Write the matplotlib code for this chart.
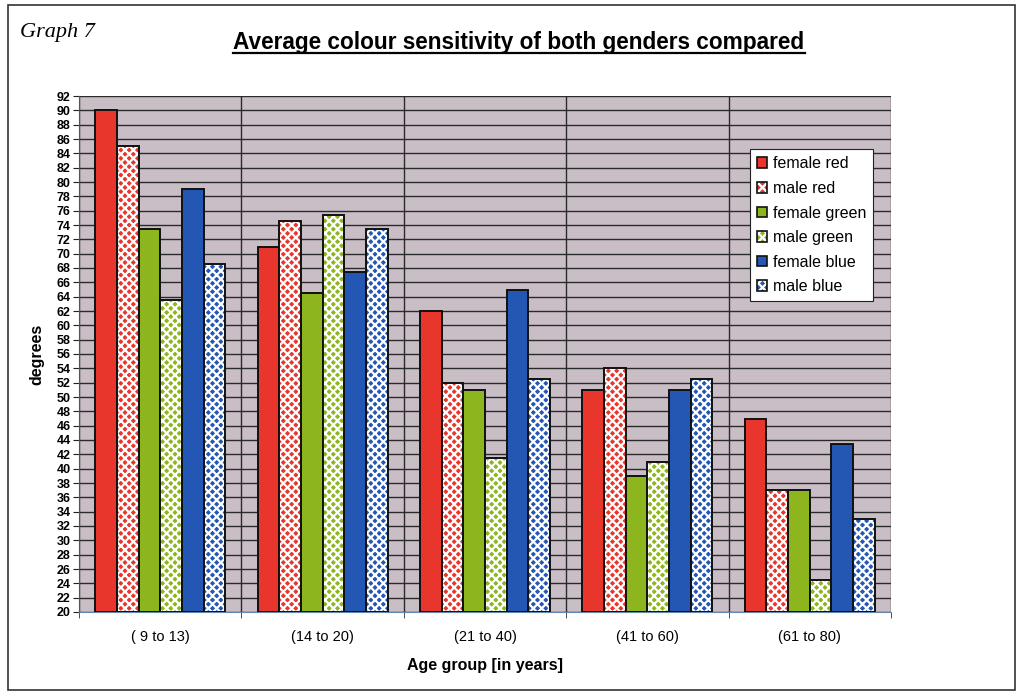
import matplotlib
matplotlib.use("Agg")
import matplotlib.pyplot as plt
import numpy as np
from matplotlib.patches import Rectangle, Patch
from matplotlib.lines import Line2D
from matplotlib.legend_handler import HandlerTuple

categories = ["( 9 to 13)", "(14 to 20)", "(21 to 40)", "(41 to 60)", "(61 to 80)"]
series_names = ["female red", "male red", "female green", "male green", "female blue", "male blue"]
female_red = [90, 71, 62, 51, 47]
male_red = [85, 74.5, 52, 54, 37]
female_green = [73.5, 64.5, 51, 39, 37]
male_green = [63.5, 75.4, 41.5, 41, 24.5]
female_blue = [79, 67.5, 65, 51, 43.5]
male_blue = [68.5, 73.5, 52.5, 52.5, 33]
yticks = list(range(20, 93, 2))

series = [female_red, male_red, female_green, male_green, female_blue, male_blue]
colors = ["#e8362c", "#e8362c", "#8db51e", "#8db51e", "#2456b4", "#2456b4"]
patterned = [False, True, False, True, False, True]

plt.rcParams['font.family'] = ['Liberation Sans', 'DejaVu Sans']
plt.rcParams['hatch.linewidth'] = 1.6

fig = plt.figure(figsize=(10.22, 6.95), dpi=100)
ax = fig.add_axes([79/1022, 1-612/695, (891-79)/1022, (612-96)/695])
ax.set_facecolor("#c9bec6")

x = np.arange(len(categories))
group = 0.8
w = group / len(series)
HATCH = "xxxx"
for i, (vals, c, pat) in enumerate(zip(series, colors, patterned)):
    pos = x - group/2 + w/2 + i*w
    heights = np.array(vals) - 20
    if pat:
        ax.bar(pos, heights, w, bottom=20, color=c, edgecolor="white",
               hatch=HATCH, linewidth=0, zorder=3)
        ax.bar(pos, heights, w, bottom=20, fill=False, edgecolor="#111111",
               linewidth=1.4, zorder=4)
    else:
        ax.bar(pos, heights, w, bottom=20, color=c, edgecolor="#111111",
               linewidth=1.4, zorder=3)

ax.set_xlim(-0.5, len(categories)-0.5)
ax.set_ylim(20, 92)
ax.set_yticks(yticks)
ax.set_yticklabels([str(t) for t in yticks], fontsize=9, fontweight='bold')
ax.set_xticks(x)
ax.set_xticklabels(categories, fontsize=10.5)
ax.tick_params(axis='x', length=0, pad=13)
ax.set_xticks(np.arange(-0.5, len(categories), 1.0), minor=True)
ax.tick_params(axis='x', which='minor', length=4, color='#333333')
ax.tick_params(axis='y', length=4, pad=2, color='#222222')
ax.grid(axis='y', color='#2a2a2a', linewidth=1.0, zorder=1)
ax.grid(axis='x', which='minor', color='#2a2a2a', linewidth=1.0, zorder=1)
ax.set_axisbelow(True)
for s in ['top', 'right']:
    ax.spines[s].set_visible(False)
ax.spines['left'].set_color('#555555')
ax.spines['bottom'].set_color('#6688aa')

ax.set_ylabel("degrees", fontsize=11.5, fontweight='bold', labelpad=9)
ax.set_xlabel("Age group [in years]", fontsize=11.5, fontweight='bold', labelpad=10)

handles = []
for name, c, pat in zip(series_names, colors, patterned):
    if pat:
        h1 = Patch(facecolor=c, edgecolor='white', hatch=HATCH, linewidth=0)
        h2 = Patch(fill=False, edgecolor='#111111', linewidth=1.2)
        handles.append((h1, h2))
    else:
        handles.append(Patch(facecolor=c, edgecolor='#111111', linewidth=1.2))
leg = ax.legend(handles=handles, labels=series_names, loc='upper left',
                bbox_to_anchor=(0.826, 0.897), borderaxespad=0,
                handler_map={tuple: HandlerTuple(ndivide=1)},
                fontsize=11.5, frameon=True, fancybox=False, edgecolor='#222222',
                handlelength=0.65, handleheight=0.65, handletextpad=0.35,
                labelspacing=0.6, borderpad=0.45, framealpha=1)
leg.get_frame().set_linewidth(0.8)

fig.text(20/1022, 1-33/695, "Graph 7", fontsize=16, style='italic',
         family=['Liberation Serif', 'DejaVu Serif'], va='center', ha='left')
title = fig.text(519/1022, 1-43/695, "Average colour sensitivity of both genders compared",
                 fontsize=16.3, fontweight='bold', ha='center', va='center')

# outer border
fig.patches.append(Rectangle((8/1022, 5/695), 1007/1022, 685/695, transform=fig.transFigure,
                             fill=False, edgecolor='#333333', linewidth=1.2))

# underline title
fig.canvas.draw()
bb = title.get_window_extent(renderer=fig.canvas.get_renderer())
inv = fig.transFigure.inverted()
(x0, y0), (x1, y1) = inv.transform([(bb.x0, bb.y0), (bb.x1, bb.y1)])
fig.add_artist(Line2D([x0, x1], [y0 + 0.002, y0 + 0.002], transform=fig.transFigure,
                      color='black', linewidth=1.6))

fig.savefig("out.png", dpi=100)
